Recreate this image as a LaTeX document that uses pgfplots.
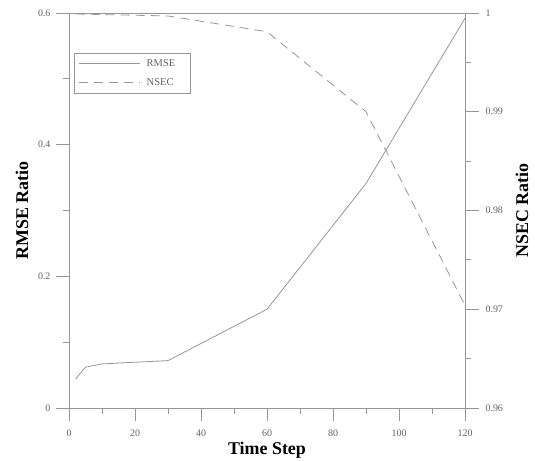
\documentclass[border=0pt]{standalone}
\usepackage{fontspec}
\setmainfont{Liberation Serif}
\usepackage{pgfplots}
\pgfplotsset{compat=1.18}
\definecolor{ln}{RGB}{150,150,150}
\definecolor{tk}{RGB}{100,100,100}

\pgfplotsset{
  twin/.style={
    scale only axis, width=396bp, height=395bp,
    xmin=0, xmax=120,
    axis line style={ln, line width=0.8bp},
    every tick/.style={ln, line width=0.8bp},
    tick label style={font=\fontsize{10}{11}\selectfont, text=tk},
    /pgf/number format/assume math mode=true,
    label style={font=\fontsize{18}{20}\selectfont\bfseries, anchor=center},
    tick align=outside,
    minor tick num=0,
  }
}

\begin{document}
\begin{tikzpicture}[x=1bp,y=1bp]
\useasboundingbox (-69,-53) rectangle (466,408);
\begin{axis}[twin,
  ymin=0, ymax=0.6,
  xtick={0,20,...,120}, ytick={0,0.2,0.4,0.6},
  xtick pos=bottom, ytick pos=left,
  major tick length=13bp,
  extra x ticks={10,30,50,70,90,110}, extra x tick labels={},
  extra y ticks={0.1,0.3,0.5}, extra y tick labels={},
  extra tick style={major tick length=6bp},
  xticklabel style={yshift=-5bp},
  yticklabel style={xshift=-2bp},
  xlabel={Time Step}, ylabel={RMSE Ratio},
  xlabel style={at={(axis description cs:0.5,-0.106)}},
  ylabel style={at={(axis description cs:-0.119,0.5)}},
  legend style={at={(0.012,0.898)}, anchor=north west, draw=ln,
    font=\fontsize{10.5}{11}\selectfont, text=tk,
    inner xsep=5bp, inner ysep=4bp, row sep=6.5bp, column sep=4bp},
  legend cell align=left,
  legend image code/.code={\draw[#1] (0bp,0bp) -- (61bp,0bp);},
]
\addplot[ln, line width=0.8bp] coordinates {
  (2,0.044) (5,0.062) (10,0.067) (30,0.072) (60,0.150) (90,0.341) (120,0.592)};
\addlegendentry{\makebox[36bp][l]{RMSE}}
\addlegendimage{ln, line width=0.8bp, dash pattern=on 9bp off 6bp}
\addlegendentry{\makebox[36bp][l]{NSEC}}
\end{axis}
\begin{axis}[twin,
  ymin=0.96, ymax=1,
  axis y line*=right, axis x line=none,
  ytick={0.96,0.97,0.98,0.99,1},
  major tick length=14bp,
  extra y ticks={0.965,0.975,0.985,0.995}, extra y tick labels={},
  extra tick style={major tick length=6bp},
  yticklabel style={xshift=3bp},
  ylabel={NSEC Ratio},
  ylabel style={at={(axis description cs:1.144,0.5)}},
]
\addplot[ln, line width=0.8bp, dash pattern=on 9bp off 6bp] coordinates {
  (2,0.9999) (30,0.9997) (60,0.9981) (90,0.990) (120,0.9704)};
\end{axis}
\end{tikzpicture}
\end{document}
